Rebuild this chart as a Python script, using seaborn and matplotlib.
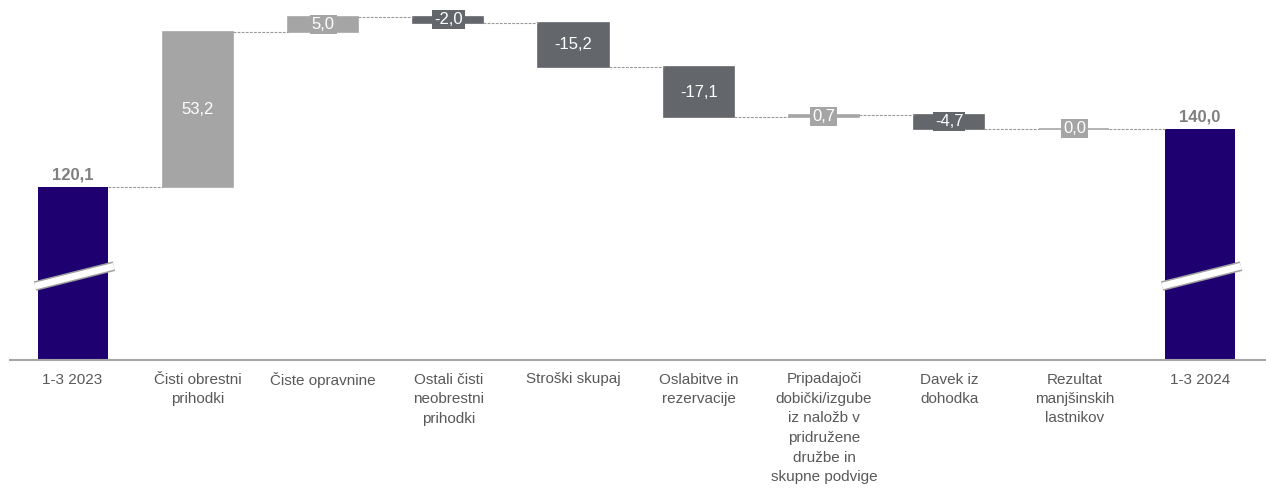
import numpy as np
import pandas as pd
import matplotlib
matplotlib.use("Agg")
import matplotlib.pyplot as plt
import seaborn as sns

sns.set_style('white')
plt.rcParams['font.family'] = ['Liberation Sans Narrow', 'Liberation Sans', 'DejaVu Sans']

# data
categories = ['1-3 2023', 'Čisti obrestni\nprihodki', 'Čiste opravnine',
              'Ostali čisti\nneobrestni\nprihodki', 'Stroški skupaj',
              'Oslabitve in\nrezervacije',
              'Pripadajoči\ndobički/izgube\niz naložb v\npridružene\ndružbe in\nskupne podvige',
              'Davek iz\ndohodka', 'Rezultat\nmanjšinskih\nlastnikov', '1-3 2024']
values = [120.1, 53.2, 5.0, -2.0, -15.2, -17.1, 0.7, -4.7, 0.0, 140.0]
kinds = ['total', 'delta', 'delta', 'delta', 'delta', 'delta', 'delta', 'delta', 'delta', 'total']

NAVY = '#1f0070'
LIGHT = '#a5a5a5'
DARK = '#63666a'

# waterfall geometry
bottoms, tops, levels = [], [], []
running = 0.0
for v, k in zip(values, kinds):
    if k == 'total':
        bottoms.append(0.0)
        tops.append(v)
        running = v
    else:
        lo, hi = sorted([running, running + v])
        bottoms.append(lo)
        tops.append(hi)
        running += v
    levels.append(running)

df = pd.DataFrame({'cat': categories,
                   'height': np.array(tops) - np.array(bottoms),
                   'bottom': bottoms})

fig = plt.figure(figsize=(12.66, 4.91), dpi=100)
ax = fig.add_axes([10 / 1266, 131 / 491, 1256 / 1266, 360 / 491])

width = 0.56
sns.barplot(data=df, x='cat', y='height', bottom=df['bottom'].values,
            width=width, errorbar=None, ax=ax, color=LIGHT)

colors = []
for v, k in zip(values, kinds):
    if k == 'total':
        colors.append(NAVY)
    elif v >= 0:
        colors.append(LIGHT)
    else:
        colors.append(DARK)

for p, c, k in zip(ax.patches, colors, kinds):
    p.set_facecolor(c)
    if k == 'total':
        p.set_edgecolor('none')
        p.set_linewidth(0)
    else:
        p.set_edgecolor(c)
        p.set_linewidth(1.2)

ymin, ymax = 60.9, 184.1
ax.set_xlim(-0.5, 9.53)
ax.set_ylim(ymin, ymax)

# connectors
for i in range(len(values) - 1):
    ax.plot([i + width / 2, i + 1 - width / 2], [levels[i], levels[i]],
            color='#999999', lw=0.8, ls=(0, (2.5, 1.2)), zorder=1)

# labels
for i, (v, k) in enumerate(zip(values, kinds)):
    txt = f'{v:.1f}'.replace('.', ',')
    if k == 'total':
        ax.text(i, tops[i] + 1.5, txt, ha='center', va='bottom', fontsize=12,
                fontweight='bold', color='#7f7f7f')
    else:
        mid = (tops[i] + bottoms[i]) / 2
        ax.text(i, mid, txt, ha='center', va='center', fontsize=12, color='white',
                bbox=dict(boxstyle='square,pad=0.12', fc=colors[i], ec='none'),
                zorder=4)

# axis break marks on the total bars
brk = 89.6
for i, k in enumerate(kinds):
    if k == 'total':
        xs = [i - 0.30, i + 0.33]
        ys = [brk - 3.4, brk + 3.4]
        ax.plot(xs, ys, color='#a0a0a0', lw=7, solid_capstyle='butt', zorder=5)
        ax.plot(xs, ys, color='white', lw=4.8, solid_capstyle='butt', zorder=6)

ax.set_xticks(range(len(categories)))
ax.set_xticklabels(categories, fontsize=11, color='#595959', linespacing=1.5)
ax.tick_params(axis='x', length=0, pad=9)
ax.set_yticks([])
ax.set_xlabel('')
ax.set_ylabel('')
for s in ['top', 'right', 'left']:
    ax.spines[s].set_visible(False)
ax.spines['bottom'].set_color('#a6a6a6')
ax.spines['bottom'].set_linewidth(1.5)

fig.savefig('out.png', dpi=100)
